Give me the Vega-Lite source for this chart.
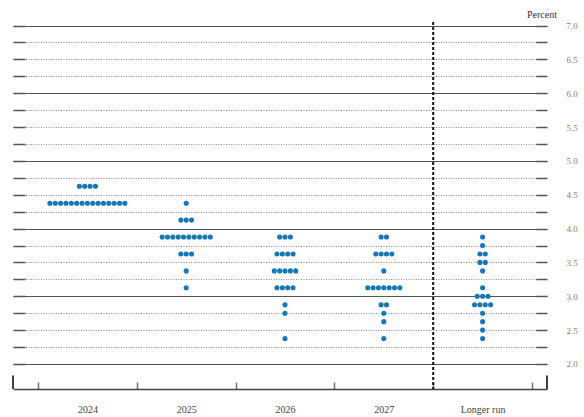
{
  "$schema": "https://vega.github.io/schema/vega-lite/v6.json",
  "width": 534,
  "height": 367,
  "autosize": {"type": "none"},
  "padding": {"left": 13, "top": 22, "right": 37, "bottom": 28},
  "background": "white",
  "config": {"view": {"stroke": null}, "font": "Liberation Serif"},
  "title": {"text": "Percent", "anchor": "end", "frame": "group", "fontSize": 10, "font": "Liberation Serif", "fontWeight": "normal", "color": "#333", "offset": 1, "dx": 10},
  "datasets": {
    "dots": [
      {"c":"2024","r":4.625},{"c":"2024","r":4.625},{"c":"2024","r":4.625},{"c":"2024","r":4.625},
      {"c":"2024","r":4.375},{"c":"2024","r":4.375},{"c":"2024","r":4.375},{"c":"2024","r":4.375},{"c":"2024","r":4.375},
      {"c":"2024","r":4.375},{"c":"2024","r":4.375},{"c":"2024","r":4.375},{"c":"2024","r":4.375},{"c":"2024","r":4.375},
      {"c":"2024","r":4.375},{"c":"2024","r":4.375},{"c":"2024","r":4.375},{"c":"2024","r":4.375},{"c":"2024","r":4.375},
      {"c":"2025","r":4.375},
      {"c":"2025","r":4.125},{"c":"2025","r":4.125},{"c":"2025","r":4.125},
      {"c":"2025","r":3.875},{"c":"2025","r":3.875},{"c":"2025","r":3.875},{"c":"2025","r":3.875},{"c":"2025","r":3.875},
      {"c":"2025","r":3.875},{"c":"2025","r":3.875},{"c":"2025","r":3.875},{"c":"2025","r":3.875},{"c":"2025","r":3.875},
      {"c":"2025","r":3.625},{"c":"2025","r":3.625},{"c":"2025","r":3.625},
      {"c":"2025","r":3.375},
      {"c":"2025","r":3.125},
      {"c":"2026","r":3.875},{"c":"2026","r":3.875},{"c":"2026","r":3.875},
      {"c":"2026","r":3.625},{"c":"2026","r":3.625},{"c":"2026","r":3.625},{"c":"2026","r":3.625},
      {"c":"2026","r":3.375},{"c":"2026","r":3.375},{"c":"2026","r":3.375},{"c":"2026","r":3.375},{"c":"2026","r":3.375},
      {"c":"2026","r":3.125},{"c":"2026","r":3.125},{"c":"2026","r":3.125},{"c":"2026","r":3.125},
      {"c":"2026","r":2.875},
      {"c":"2026","r":2.75},
      {"c":"2026","r":2.375},
      {"c":"2027","r":3.875},{"c":"2027","r":3.875},
      {"c":"2027","r":3.625},{"c":"2027","r":3.625},{"c":"2027","r":3.625},{"c":"2027","r":3.625},
      {"c":"2027","r":3.375},
      {"c":"2027","r":3.125},{"c":"2027","r":3.125},{"c":"2027","r":3.125},{"c":"2027","r":3.125},{"c":"2027","r":3.125},{"c":"2027","r":3.125},{"c":"2027","r":3.125},
      {"c":"2027","r":2.875},{"c":"2027","r":2.875},
      {"c":"2027","r":2.75},
      {"c":"2027","r":2.625},
      {"c":"2027","r":2.375},
      {"c":"Longer run","r":3.875},
      {"c":"Longer run","r":3.75},
      {"c":"Longer run","r":3.625},{"c":"Longer run","r":3.625},
      {"c":"Longer run","r":3.5},{"c":"Longer run","r":3.5},
      {"c":"Longer run","r":3.375},
      {"c":"Longer run","r":3.125},
      {"c":"Longer run","r":3.0},{"c":"Longer run","r":3.0},{"c":"Longer run","r":3.0},
      {"c":"Longer run","r":2.875},{"c":"Longer run","r":2.875},{"c":"Longer run","r":2.875},{"c":"Longer run","r":2.875},
      {"c":"Longer run","r":2.75},
      {"c":"Longer run","r":2.625},
      {"c":"Longer run","r":2.5},
      {"c":"Longer run","r":2.375}
    ]
  },
  "layer": [
    {
      "data": {"values": [{"e": 0}, {"e": 1}]},
      "mark": {"type": "rule", "color": "#111", "strokeWidth": 1.6},
      "encoding": {
        "x": {"field": "e", "type": "quantitative", "scale": {"domain": [0, 1], "nice": false, "zero": false}, "axis": null},
        "y": {"datum": 1.63, "type": "quantitative",
              "scale": {"domain": [1.63, 7.052], "nice": false, "zero": false},
              "axis": {"orient": "right", "values": [2,2.25,2.5,2.75,3,3.25,3.5,3.75,4,4.25,4.5,4.75,5,5.25,5.5,5.75,6,6.25,6.5,6.75,7],
                       "domain": false, "grid": false, "ticks": true, "tickSize": -11, "tickColor": "#555", "tickWidth": 1.5,
                       "labelExpr": "(datum.value * 2) % 1 === 0 ? format(datum.value, '.1f') : ''",
                       "labelFont": "Liberation Serif", "labelFontSize": 9, "labelColor": "#9a7a50", "labelPadding": 30, "labelAlign": "left",
                       "labelOverlap": false, "labelFlush": false, "labelBound": false, "title": null}},
        "y2": {"datum": 1.83}
      }
    },
    {
      "layer": [
        {
          "data": {"values": [{"c": "Longer run"}]},
          "mark": {"type": "rule", "color": "#111", "strokeWidth": 2, "strokeDash": [3, 2]},
          "encoding": {
            "x": {"field": "c", "type": "nominal", "bandPosition": 0,
                  "scale": {"domain": ["2024","2025","2026","2027","Longer run"], "paddingInner": 0, "paddingOuter": 0.2024, "align": 0.625},
                  "axis": {"orient": "bottom", "title": null, "domain": true, "domainColor": "#444", "domainWidth": 1.3, "tickBand": "extent",
                           "ticks": true, "tickSize": -7, "tickColor": "#777", "tickWidth": 1.5, "labelFont": "Liberation Serif", "labelFontSize": 10,
                           "labelColor": "#444", "labelPadding": 22, "labelAngle": 0, "grid": false}}
          }
        },
        {
          "data": {"name": "dots"},
          "transform": [
            {"window": [{"op": "count", "as": "u"}], "frame": [0, 0]},
            {"stack": "u", "groupby": ["c", "r"], "offset": "center", "as": ["s0", "s1"]}
          ],
          "mark": {"type": "point", "filled": true, "size": 26, "color": "#1478b4", "opacity": 1, "strokeWidth": 0},
          "encoding": {
            "x": {"field": "c", "type": "nominal",
                  "scale": {"domain": ["2024","2025","2026","2027","Longer run"], "paddingInner": 0, "paddingOuter": 0.2024, "align": 0.625},
                  "axis": {"orient": "bottom", "title": null, "domain": true, "domainColor": "#444", "domainWidth": 1.3, "tickBand": "extent",
                           "ticks": true, "tickSize": -7, "tickColor": "#777", "tickWidth": 1.5, "labelFont": "Liberation Serif", "labelFontSize": 10,
                           "labelColor": "#444", "labelPadding": 22, "labelAngle": 0, "grid": false}},
            "xOffset": {"field": "s0", "type": "quantitative", "scale": {"domain": [-2.23, 16.23], "nice": false, "zero": false}},
            "y": {"field": "r", "type": "quantitative",
                  "scale": {"domain": [1.63, 7.052], "nice": false, "zero": false},
                  "axis": {"orient": "left", "values": [2,2.25,2.5,2.75,3,3.25,3.5,3.75,4,4.25,4.5,4.75,5,5.25,5.5,5.75,6,6.25,6.5,6.75,7],
                           "domain": false, "labels": false, "ticks": true, "tickSize": -12, "tickColor": "#555", "tickWidth": 1.5,
                           "grid": true,
                           "gridColor": {"condition": {"test": "datum.value % 1 === 0", "value": "#555"}, "value": "#888"},
                           "gridDash": {"condition": {"test": "datum.value % 1 === 0", "value": []}, "value": [1, 1.5]},
                           "gridWidth": 1, "title": null}}
          }
        }
      ]
    }
  ],
  "resolve": {"scale": {"x": "independent"}, "axis": {"y": "independent"}}
}
